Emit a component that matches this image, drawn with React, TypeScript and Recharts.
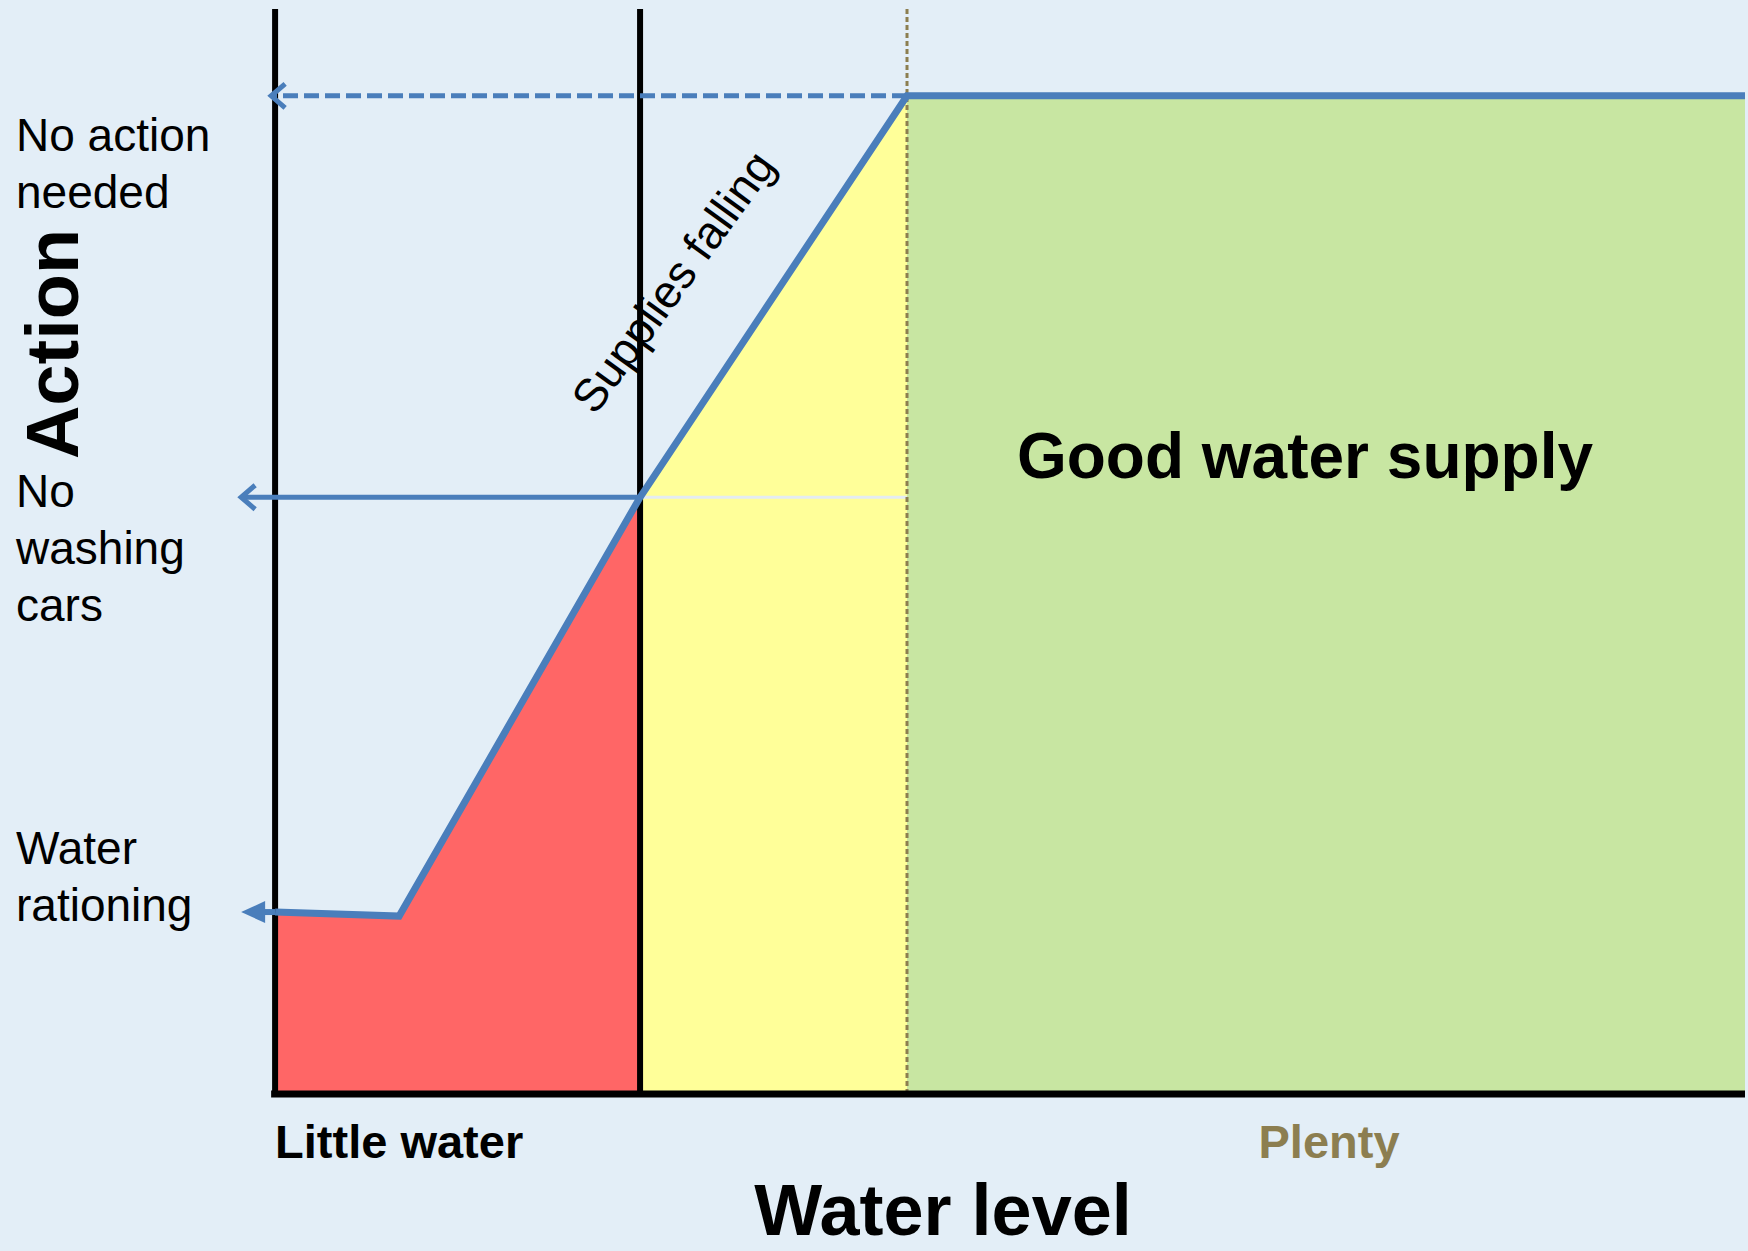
import {
  ComposedChart,
  Area,
  Line,
  XAxis,
  YAxis,
  ReferenceLine,
  Label,
} from "recharts";

// water level (x) breakpoints and the action level (y) at each
const levelX = [0, 8.44, 24.83, 42.99, 100];
const actionY = [16.77, 16.4, 55, 92, 92];
const redY = [16.77, 16.4, 55, null, null];
const yellowY = [null, null, 55, 92, null];
const greenY = [null, null, null, 92, 92];

const xTicks = [0, 71.7];
const xTickLabels = ["Little water", "Plenty"];

// arrows back to the action axis: level, where they start, where the tip sits
const arrowLevels = [92, 55, 16.77];
const arrowFrom = [42.99, 24.83, 0];
const arrowTip = [-0.27, -2.31, -2.31];

const zoneEdges = [0, 24.83, 42.99];

const FONT = "'Liberation Sans', Arial, sans-serif";
const BLUE = "#4A7EBB";
const OLIVE = "#8C7E50";

const data = levelX.map((x, i) => ({
  x,
  action: actionY[i],
  red: redY[i],
  yellow: yellowY[i],
  green: greenY[i],
}));

function LevelTick({ x, y, payload }: any) {
  const i = xTicks.indexOf(payload.value);
  return (
    <text
      x={x}
      y={y}
      dy={62}
      textAnchor={i === 0 ? "start" : "middle"}
      fontSize={47}
      fontWeight="bold"
      fontFamily={FONT}
      fill={i === 0 ? "#000" : OLIVE}
    >
      {xTickLabels[i]}
    </text>
  );
}

function arrowShape(kind: "open" | "filled", dashed: boolean, width: number) {
  return (p: any) => {
    const { x1, y1, x2, y2 } = p;
    return (
      <g>
        <line
          x1={x1}
          y1={y1}
          x2={kind === "filled" ? x2 + 10 : x2 + 1}
          y2={y2}
          stroke={BLUE}
          strokeWidth={width}
          strokeDasharray={dashed ? "15 6" : undefined}
        />
        {kind === "open" ? (
          <polyline
            points={`${x2 + 14},${y2 - 12} ${x2},${y2} ${x2 + 14},${y2 + 12}`}
            fill="none"
            stroke={BLUE}
            strokeWidth={5}
          />
        ) : (
          <polygon
            points={`${x2 + 24},${y2 - 11} ${x2},${y2} ${x2 + 24},${y2 + 11}`}
            fill={BLUE}
          />
        )}
      </g>
    );
  };
}

const actionLabels = [
  { lines: ["No action", "needed"], y: 151 },
  { lines: ["No", "washing", "cars"], y: 507 },
  { lines: ["Water", "rationing"], y: 864 },
];

export default function App() {
  return (
    <div style={{ position: "relative", width: 1748, height: 1251, background: "#E3EEF7" }}>
      <style>{"body{margin:0}"}</style>
      <ComposedChart
        width={1748}
        height={1251}
        data={data}
        margin={{ top: 9, right: 3, left: 231, bottom: 0 }}
      >
        <XAxis
          type="number"
          dataKey="x"
          domain={[-3, 100]}
          ticks={xTicks}
          interval={0}
          axisLine={false}
          tickLine={false}
          tickSize={0}
          height={157}
          tick={<LevelTick />}
        >
          <Label
            value="Water level"
            position="insideBottom"
            offset={16}
            dx={-45}
            fontSize={72}
            fontWeight="bold"
            fontFamily={FONT}
            fill="#000"
          />
        </XAxis>
        <YAxis type="number" domain={[0, 100]} hide />

        <Area dataKey="red" type="linear" stroke="none" fill="#FF6666" fillOpacity={1} isAnimationActive={false} />
        <Area dataKey="yellow" type="linear" stroke="none" fill="#FFFF99" fillOpacity={1} isAnimationActive={false} />
        <Area dataKey="green" type="linear" stroke="none" fill="#C8E6A2" fillOpacity={1} isAnimationActive={false} />

        <ReferenceLine
          segment={[
            { x: zoneEdges[1], y: arrowLevels[1] },
            { x: zoneEdges[2], y: arrowLevels[1] },
          ]}
          stroke="#E4ECF3"
          strokeWidth={3}
        />
        <ReferenceLine x={zoneEdges[2]} stroke={OLIVE} strokeWidth={3} strokeDasharray="5 3" />
        <ReferenceLine x={zoneEdges[0]} stroke="#000" strokeWidth={6} />
        <ReferenceLine x={zoneEdges[1]} stroke="#000" strokeWidth={6} />
        <ReferenceLine
          segment={[
            { x: -0.27, y: 0 },
            { x: 100, y: 0 },
          ]}
          stroke="#000"
          strokeWidth={7}
          ifOverflow="visible"
        />

        {arrowLevels.map((lvl, i) => (
          <ReferenceLine
            key={i}
            segment={[
              { x: arrowFrom[i], y: lvl },
              { x: arrowTip[i], y: lvl },
            ]}
            ifOverflow="visible"
            shape={arrowShape(i === 2 ? "filled" : "open", i === 0, i === 2 ? 6 : 5)}
          />
        ))}

        <Line
          dataKey="action"
          type="linear"
          stroke={BLUE}
          strokeWidth={7}
          dot={false}
          activeDot={false}
          isAnimationActive={false}
        />
      </ComposedChart>

      {/* free annotations sit on top of the chart */}
      <svg
        width={1748}
        height={1251}
        style={{ position: "absolute", left: 0, top: 0, pointerEvents: "none" }}
      >
        {actionLabels.map((lab, i) =>
          lab.lines.map((t, j) => (
            <text
              key={`${i}-${j}`}
              x={16}
              y={lab.y + j * 57}
              fontSize={46}
              fontFamily={FONT}
              fill="#000"
            >
              {t}
            </text>
          ))
        )}
        <text
          x={78}
          y={344}
          transform="rotate(-90 78 344)"
          textAnchor="middle"
          fontSize={74}
          fontWeight="bold"
          fontFamily={FONT}
          fill="#000"
        >
          Action
        </text>
        <text
          x={686}
          y={291}
          transform="rotate(-54 686 291)"
          textAnchor="middle"
          fontSize={46}
          fontFamily={FONT}
          fill="#000"
        >
          Supplies falling
        </text>
        <text
          x={1305}
          y={478}
          textAnchor="middle"
          fontSize={64}
          fontWeight="bold"
          fontFamily={FONT}
          fill="#000"
        >
          Good water supply
        </text>
      </svg>
    </div>
  );
}
